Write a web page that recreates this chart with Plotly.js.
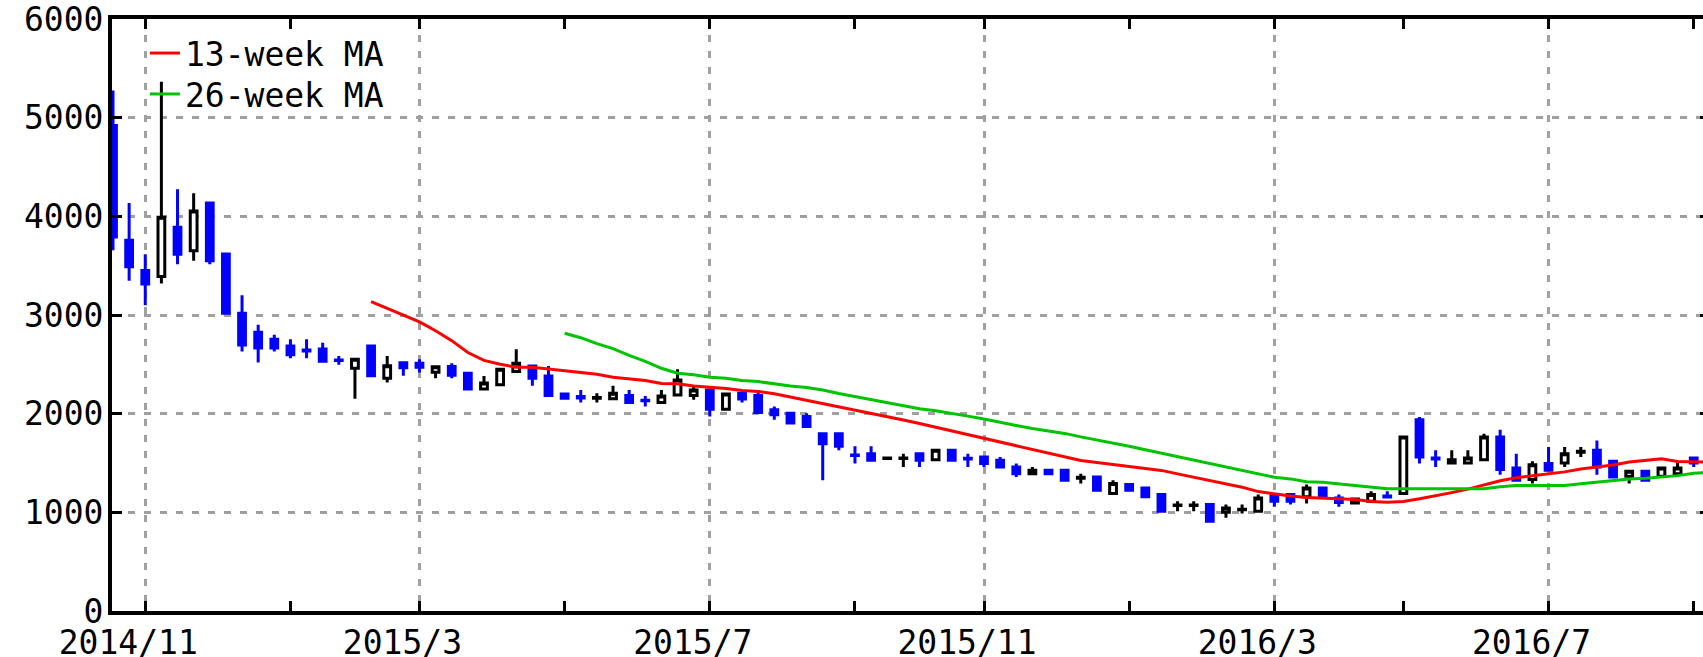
<!DOCTYPE html>
<html><head><meta charset="utf-8">
<script src="https://cdn.plot.ly/plotly-3.0.1.min.js"></script>
<style>html,body{margin:0;padding:0;overflow:hidden;background:#fff;width:1703px;height:657px}#chart{width:1714px;height:657px}</style>
</head><body><div id="chart"></div>
<script>
const weeks = [
"2014-10-20","2014-10-27","2014-11-03","2014-11-10","2014-11-17","2014-11-24","2014-12-01","2014-12-08","2014-12-15","2014-12-22",
"2014-12-29","2015-01-05","2015-01-12","2015-01-19","2015-01-26","2015-02-02","2015-02-09","2015-02-16","2015-02-23","2015-03-02",
"2015-03-09","2015-03-16","2015-03-23","2015-03-30","2015-04-06","2015-04-13","2015-04-20","2015-04-27","2015-05-04","2015-05-11",
"2015-05-18","2015-05-25","2015-06-01","2015-06-08","2015-06-15","2015-06-22","2015-06-29","2015-07-06","2015-07-13","2015-07-20",
"2015-07-27","2015-08-03","2015-08-10","2015-08-17","2015-08-24","2015-08-31","2015-09-07","2015-09-14","2015-09-21","2015-09-28",
"2015-10-05","2015-10-12","2015-10-19","2015-10-26","2015-11-02","2015-11-09","2015-11-16","2015-11-23","2015-11-30","2015-12-07",
"2015-12-14","2015-12-21","2015-12-28","2016-01-04","2016-01-11","2016-01-18","2016-01-25","2016-02-01","2016-02-08","2016-02-15",
"2016-02-22","2016-02-29","2016-03-07","2016-03-14","2016-03-21","2016-03-28","2016-04-04","2016-04-11","2016-04-18","2016-04-25",
"2016-05-02","2016-05-09","2016-05-16","2016-05-23","2016-05-30","2016-06-06","2016-06-13","2016-06-20","2016-06-27","2016-07-04",
"2016-07-11","2016-07-18","2016-07-25","2016-08-01","2016-08-08","2016-08-15","2016-08-22","2016-08-29","2016-09-05","2016-09-12"];

const openP = [4920,3757,3450,3390,3890,3650,4135,3617,3017,2825, 2755,2686,2645,2655,2545,2461,2686,2360,2515,2510,
2420,2477,2410,2250,2292,2427,2484,2383,2200,2175, 2155,2150,2184,2135,2113,2190,2184,2241,2046,2207,
2184,2039,2005,1972,1797,1797,1580,1595,1545,1545, 1595,1534,1628,1548,1561,1527,1460,1392,1426,1426,
1345,1359,1190,1281,1247,1180,1068,1068,1079,1001, 1025,1011,1180,1180,1157,1247,1146,1095,1112,1165,
1190,1938,1550,1500,1500,1534,1763,1450,1332,1494, 1500,1610,1628,1517,1365,1416,1365,1392,1551,1520];
const highP = [5275,4135,3615,5365,4275,4235,4135,3617,3200,2900, 2800,2755,2755,2720,2585,2552,2686,2585,2515,2552,
2477,2512,2410,2383,2450,2653,2484,2484,2200,2240, 2207,2282,2241,2180,2241,2450,2282,2241,2200,2207,
2241,2073,2005,2005,1797,1797,1669,1669,1550,1595, 1595,1628,1628,1595,1561,1561,1494,1460,1426,1426,
1392,1359,1325,1281,1247,1180,1112,1112,1079,1079, 1079,1180,1180,1180,1281,1247,1180,1146,1213,1213,
1763,1966,1628,1628,1628,1797,1837,1595,1517,1662, 1662,1662,1729,1517,1416,1416,1450,1517,1551,1520];
const lowP = [3655,3347,3100,3320,3515,3550,3515,3017,2630,2518, 2630,2562,2562,2528,2495,2150,2383,2315,2385,2417,
2360,2360,2249,2249,2292,2427,2282,2184,2150,2113, 2113,2148,2113,2073,2113,2190,2140,1972,2046,2113,
2012,1938,1905,1871,1325,1628,1494,1527,1545,1460, 1460,1534,1527,1460,1460,1460,1359,1392,1392,1325,
1291,1223,1190,1223,1157,1011,1011,1011,910,944, 988,1011,1056,1079,1089,1157,1056,1089,1112,1155,
1190,1494,1460,1500,1500,1534,1382,1325,1291,1426, 1460,1561,1382,1359,1291,1325,1365,1392,1460,1460];
const closeP = [3790,3488,3315,3990,3615,4055,3550,3017,2697,2665, 2665,2596,2635,2530,2540,2552,2385,2485,2465,2470,
2475,2390,2250,2310,2450,2512,2360,2185,2155,2160, 2165,2207,2113,2130,2180,2342,2241,2046,2200,2148,
2012,1990,1905,1871,1696,1669,1575,1527,1550,1550, 1527,1628,1527,1540,1494,1460,1392,1426,1392,1325,
1355,1223,1291,1223,1157,1011,1075,1075,910,1045, 1032,1146,1112,1112,1247,1157,1100,1135,1180,1155,
1763,1561,1540,1534,1551,1763,1433,1325,1483,1426, 1595,1620,1460,1359,1416,1325,1450,1450,1500,1480];

const ma13 = [null,null,null,null,null,null,null,null,null,null, null,null,null,null,null,null,3135,3065,2995,2930,
2840,2740,2620,2540,2500,2471,2471,2455,2437,2420, 2400,2370,2355,2336,2305,2302,2280,2269,2255,2235,
2225,2201,2168,2140,2105,2070,2040,2005,1970,1935, 1900,1862,1828,1792,1755,1712,1676,1640,1600,1560,
1525,1505,1485,1460,1442,1425,1390,1355,1320,1285, 1255,1210,1185,1165,1150,1140,1137,1130,1110,1102,
1110,1137,1165,1200,1235,1275,1320,1350,1372,1395, 1410,1440,1460,1480,1510,1525,1544,1515,1510,1510];
const ma26 = [null,null,null,null,null,null,null,null,null,null, null,null,null,null,null,null,null,null,null,null,
null,null,null,null,null,null,null,null,2815,2770, 2710,2660,2590,2530,2460,2410,2395,2370,2360,2336,
2325,2302,2280,2265,2240,2205,2175,2140,2110,2080, 2050,2029,2005,1975,1945,1910,1880,1850,1827,1800,
1765,1735,1705,1670,1635,1600,1565,1530,1490,1455, 1420,1385,1355,1339,1310,1305,1290,1271,1260,1238,
1238,1238,1238,1238,1238,1238,1260,1271,1271,1271, 1271,1290,1305,1325,1339,1345,1360,1372,1395,1405];

const majorMonths = [11,3,7], minorMonths = [1,5,9];
const yTicks = [0,1000,2000,3000,4000,5000,6000];

const idx = weeks.map((d,i)=>i);
const majorVals=[], majorText=[], minorVals=[];
weeks.forEach((d,i)=>{
  const p = d.split('-').map(Number);
  const prevM = i>0 ? Number(weeks[i-1].split('-')[1]) : p[1];
  if (i>0 && prevM !== p[1]) {
    if (majorMonths.includes(p[1])) { majorVals.push(i); majorText.push(p[0]+'/'+p[1]); }
    else if (minorMonths.includes(p[1])) minorVals.push(i);
  }
});

const F = 'DejaVu Sans Mono, monospace';
const data = [
 {type:'scatter', mode:'lines', x:idx, y:ma13, name:'13-week MA', legend:'legend', line:{color:'#ff0000', width:3}, hoverinfo:'skip'},
 {type:'scatter', mode:'lines', x:idx, y:ma26, name:'26-week MA', legend:'legend2', line:{color:'#00c400', width:3}, hoverinfo:'skip'},
 {type:'candlestick', x:idx, open:openP, high:highP, low:lowP, close:closeP, showlegend:false, whiskerwidth:0,
  increasing:{line:{color:'#000000', width:3}, fillcolor:'#ffffff'},
  decreasing:{line:{color:'#0000ff', width:3}, fillcolor:'#0000ff'}, hoverinfo:'skip'}
];
const axCommon = {ticks:'inside', ticklen:10, tickwidth:3, tickcolor:'#000', showline:true, linewidth:4, linecolor:'#000',
  mirror:'ticks', showgrid:true, gridcolor:'#a0a0a0', gridwidth:3, griddash:'7px,9px', zeroline:false,
  ticklabeloverflow:'allow', tickfont:{family:F, size:33, color:'#000'}, fixedrange:true};
const legCommon = {x:0.0206, xanchor:'left', yanchor:'top', bgcolor:'rgba(0,0,0,0)', borderwidth:0,
    font:{family:F, size:33, color:'#000'}, itemwidth:30};
const layout = {
  width:1714, height:657, margin:{l:112, r:4, t:19, b:46}, paper_bgcolor:'#fff', plot_bgcolor:'#fff',
  showlegend:true, boxgap:0.4,
  legend:Object.assign({}, legCommon, {y:0.9897}),
  legend2:Object.assign({}, legCommon, {y:0.9206}),
  xaxis:Object.assign({}, axCommon, {range:[-0.062, 99.01], tickmode:'array', tickvals:majorVals, ticktext:majorText,
    ticklabelshift:-17, ticklabelstandoff:-1, rangeslider:{visible:false},
    minor:{tickmode:'array', tickvals:minorVals, ticks:'inside', ticklen:10, tickwidth:3, tickcolor:'#000', showgrid:false}}),
  yaxis:Object.assign({}, axCommon, {range:[0,6000], tickmode:'array', tickvals:yTicks, ticktext:yTicks.map(String), ticklabelstandoff:-2})
};
Plotly.newPlot('chart', data, layout, {displayModeBar:false, staticPlot:true});
</script></body></html>
